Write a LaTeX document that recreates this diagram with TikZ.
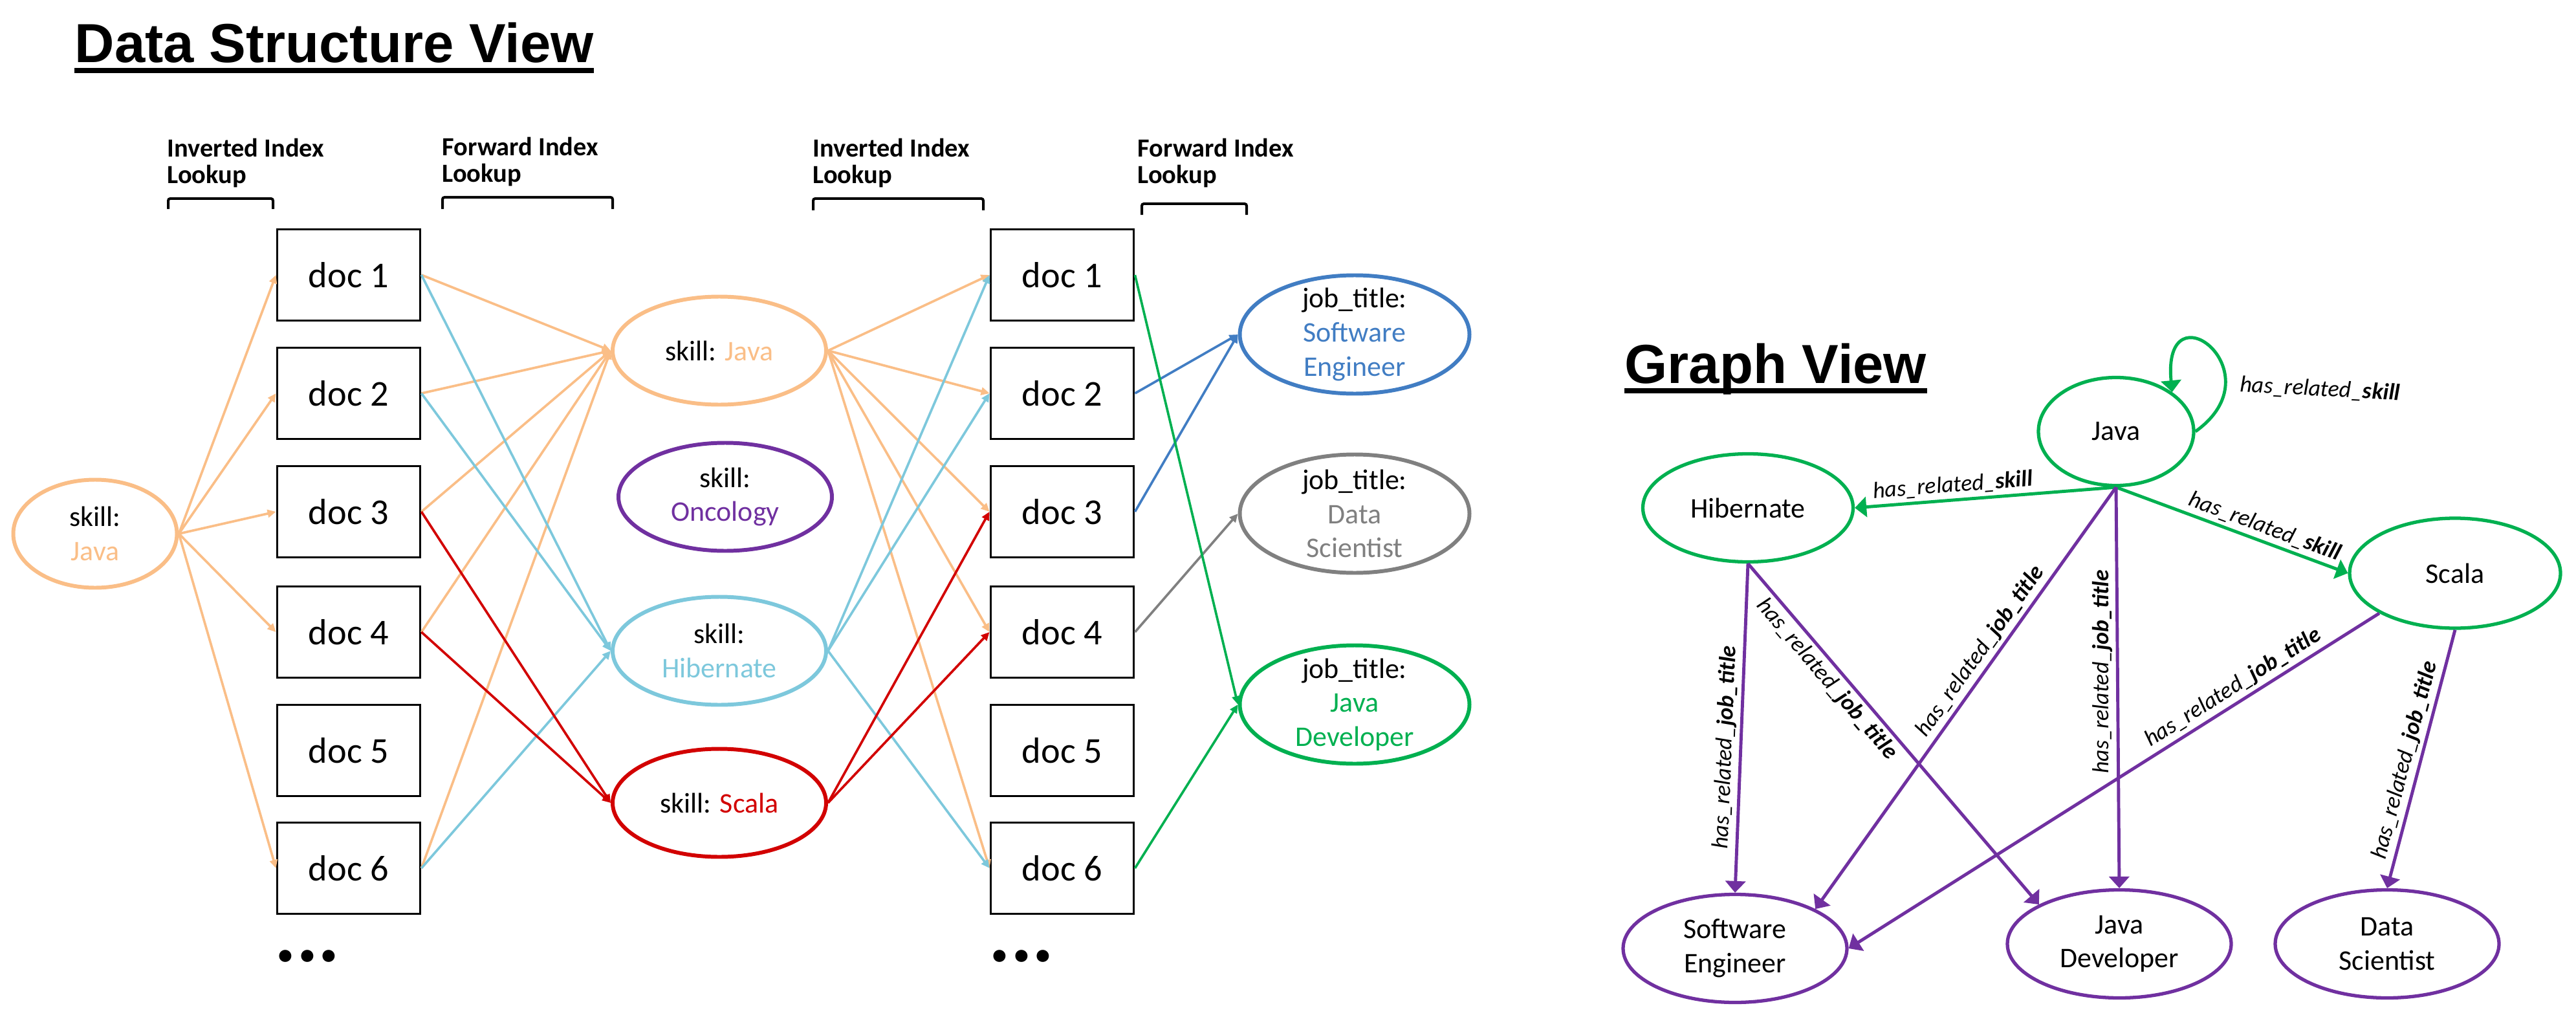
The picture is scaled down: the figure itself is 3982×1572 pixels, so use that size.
\documentclass[tikz,border=0pt]{standalone}
\usepackage{fontspec}
\setmainfont{Carlito}
\newfontfamily\headfont{Liberation Sans}
\usetikzlibrary{shapes.geometric,arrows.meta}
\definecolor{javaorange}{RGB}{250,190,135}
\definecolor{hibblue}{RGB}{125,200,220}
\definecolor{scalared}{RGB}{210,0,0}
\definecolor{oncpurple}{RGB}{112,48,160}
\definecolor{sweblue}{RGB}{65,125,195}
\definecolor{dsgray}{RGB}{128,128,128}
\definecolor{jdgreen}{RGB}{0,176,80}
\tikzset{
  viewtitle/.style={anchor=base west, inner sep=0pt, font=\headfont\bfseries\fontsize{24.2}{29}\selectfont},
  titlerule/.style={line width=0.8mm},
  lookuplbl/.style={anchor=north west, inner sep=0pt, align=left, font=\bfseries\fontsize{11.5}{11.8}\selectfont},
  lookupbracket/.style={line width=0.4mm, rounded corners=0.3mm},
  docbox/.style={draw, line width=1.1pt, minimum width=22.1mm, minimum height=14.1mm, inner sep=0pt, font=\fontsize{16}{19}\selectfont},
  moredots/.style={inner sep=0pt, font=\bfseries\fontsize{36}{40}\selectfont},
  oval/.style={ellipse, draw, line width=1.7pt, inner sep=0pt},
  skillnode/.style={oval, minimum width=33mm, minimum height=16.7mm},
  jobnode/.style={oval, minimum width=35.5mm, minimum height=18.3mm},
  gnode/.style={oval, line width=1.5pt, minimum height=16.7mm},
  every label/.style={align=center, inner sep=0pt, font=\fontsize{12.5}{15}\selectfont},
  lookup/.style={line width=1.05pt, -{Triangle[length=1.3mm, width=1.2mm]}},
  gedge/.style={line width=1.4pt, -{Triangle[length=1.8mm, width=3.1mm]}},
  elabel/.style={inner sep=1.5pt, font=\itshape\fontsize{10.2}{12}\selectfont},
}
\begin{document}
\begin{tikzpicture}[x=0.1mm, y=-0.1mm]
      \useasboundingbox (0,0) rectangle (3982,1572);
      \draw
        (115,97) node[viewtitle] (dsv){Data Structure View}
        (2511,592) node[viewtitle] (gv){Graph View};
      \draw[titlerule] ([yshift=-1.2mm]dsv.base west) -- ([yshift=-1.2mm]dsv.base east);
      \draw[titlerule] ([yshift=-1.2mm]gv.base west) -- ([yshift=-1.2mm]gv.base east);
      \draw
        (258,213) node[lookuplbl] (inv1){Inverted Index\\Lookup}
        (683,211) node[lookuplbl] (fwd1){Forward Index\\Lookup}
        (1256,213) node[lookuplbl] (inv2){Inverted Index\\Lookup}
        (1758,213) node[lookuplbl] (fwd2){Forward Index\\Lookup};
      \draw[lookupbracket] (260,323) -- (260,307) -- (422,307) -- (422,323);
      \draw[lookupbracket] (684,323) -- (684,305) -- (947,305) -- (947,323);
      \draw[lookupbracket] (1257,325) -- (1257,307) -- (1520,307) -- (1520,325);
      \draw[lookupbracket] (1765,332) -- (1765,315) -- (1927,315) -- (1927,332);
      \draw
        (147,825) node[oval, draw=javaorange, minimum width=25.3mm, minimum height=16.7mm,
          label={center:{skill:\\\textcolor{javaorange}{Java}}}] (js){}
        (539,425) node[docbox] (a1){doc 1}
        (539,608) node[docbox] (a2){doc 2}
        (539,791) node[docbox] (a3){doc 3}
        (539,977) node[docbox] (a4){doc 4}
        (539,1160) node[docbox] (a5){doc 5}
        (539,1342) node[docbox] (a6){doc 6}
        (475,1478) node[moredots] (adots){...}
        (1112,542) node[skillnode, draw=javaorange,
          label={center:{skill: \textcolor{javaorange}{Java}}}] (mjava){}
        (1121,768) node[skillnode, draw=oncpurple,
          label={center:{skill:\\\textcolor{oncpurple}{Oncology}}}] (monc){}
        (1112,1006) node[skillnode, draw=hibblue,
          label={center:{skill:\\\textcolor{hibblue}{Hibernate}}}] (mhib){}
        (1112,1241) node[skillnode, draw=scalared,
          label={center:{skill: \textcolor{scalared}{Scala}}}] (mscala){}
        (1642,425) node[docbox] (b1){doc 1}
        (1642,608) node[docbox] (b2){doc 2}
        (1642,791) node[docbox] (b3){doc 3}
        (1642,977) node[docbox] (b4){doc 4}
        (1642,1160) node[docbox] (b5){doc 5}
        (1642,1342) node[docbox] (b6){doc 6}
        (1579,1478) node[moredots] (bdots){...}
        (2094,517) node[jobnode, draw=sweblue,
          label={center:{job\_title:\\\textcolor{sweblue}{Software}\\\textcolor{sweblue}{Engineer}}}] (jse){}
        (2094,794) node[jobnode, draw=dsgray,
          label={center:{job\_title:\\\textcolor{dsgray}{Data}\\\textcolor{dsgray}{Scientist}}}] (jds){}
        (2094,1089) node[jobnode, draw=jdgreen,
          label={center:{job\_title:\\\textcolor{jdgreen}{Java}\\\textcolor{jdgreen}{Developer}}}] (jjd){};
      \begin{scope}[lookup, javaorange]
        \draw (js.east) to (a1.west);
        \draw (js.east) to (a2.west);
        \draw (js.east) to (a3.west);
        \draw (js.east) to (a4.west);
        \draw (js.east) to (a6.west);
        \draw (a1.east) to (mjava.west);
        \draw (a2.east) to (mjava.west);
        \draw (a3.east) to (mjava.west);
        \draw (a4.east) to (mjava.west);
        \draw (a6.east) to (mjava.west);
        \draw (mjava.east) to (b1.west);
        \draw (mjava.east) to (b2.west);
        \draw (mjava.east) to (b3.west);
        \draw (mjava.east) to (b4.west);
        \draw (mjava.east) to (b6.west);
      \end{scope}
      \begin{scope}[lookup, hibblue]
        \draw (a1.east) to (mhib.west);
        \draw (a2.east) to (mhib.west);
        \draw (a6.east) to (mhib.west);
        \draw (mhib.east) to (b1.west);
        \draw (mhib.east) to (b2.west);
        \draw (mhib.east) to (b6.west);
      \end{scope}
      \begin{scope}[lookup, scalared]
        \draw (a3.east) to (mscala.west);
        \draw (a4.east) to (mscala.west);
        \draw (mscala.east) to (b3.west);
        \draw (mscala.east) to (b4.west);
      \end{scope}
      \begin{scope}[lookup]
        \draw[sweblue] (b2.east) to (jse.west);
        \draw[sweblue] (b3.east) to (jse.west);
        \draw[dsgray] (b4.east) to (jds.west);
        \draw[jdgreen] (b1.east) to (jjd.west);
        \draw[jdgreen] (b6.east) to (jjd.west);
      \end{scope}
      \draw
        (3271,667) node[gnode, draw=jdgreen, minimum width=24mm, label={center:Java}] (gjava){}
        (2702,785) node[gnode, draw=jdgreen, minimum width=32.5mm, label={center:Hibernate}] (ghib){}
        (3795,886) node[gnode, draw=jdgreen, minimum width=32.6mm, minimum height=17mm, label={center:Scala}] (gscala){}
        (2682,1466) node[gnode, draw=oncpurple, minimum width=34.6mm, label={center:{Software\\Engineer}}] (gse){}
        (3276,1459) node[gnode, draw=oncpurple, minimum width=34.6mm, label={center:{Java\\Developer}}] (gjd){}
        (3690,1459) node[gnode, draw=oncpurple, minimum width=34.6mm, label={center:{Data\\Scientist}}] (gds){};
      \begin{scope}[gedge, jdgreen]
        \draw (gjava.south) to node[elabel, text=black, sloped, pos=0.62, above] {has\_related\_\textbf{skill}} (ghib.east);
        \draw (gjava.south) to node[elabel, text=black, sloped, pos=0.62, above] {has\_related\_\textbf{skill}} (gscala.west);
        \draw (gjava.east) .. controls +(129,-92) and +(-16,-168) ..
          node[elabel, text=black, pos=0.25, anchor=west, xshift=1.5mm, rotate=-3] {has\_related\_\textbf{skill}} (gjava.north east);
      \end{scope}
      \begin{scope}[gedge, oncpurple]
        \draw (ghib.south) to node[elabel, text=black, sloped, pos=0.56, above] {has\_related\_\textbf{job\_title}} (gse.north);
        \draw (ghib.south) to node[elabel, text=black, sloped, pos=0.31, below] {has\_related\_\textbf{job\_title}} (gjd.north west);
        \draw (gjava.south) to node[elabel, text=black, sloped, pos=0.41, above] {has\_related\_\textbf{job\_title}} (gse.north east);
        \draw (gjava.south) to node[elabel, text=black, pos=0.46, rotate=90, anchor=south] {has\_related\_\textbf{job\_title}} (gjd.north);
        \draw (gscala.south west) to node[elabel, text=black, sloped, pos=0.26, above] {has\_related\_\textbf{job\_title}} (gse.east);
        \draw (gscala.south) to node[elabel, text=black, sloped, pos=0.52, above] {has\_related\_\textbf{job\_title}} (gds.north);
      \end{scope}
    \end{tikzpicture}
\end{document}
